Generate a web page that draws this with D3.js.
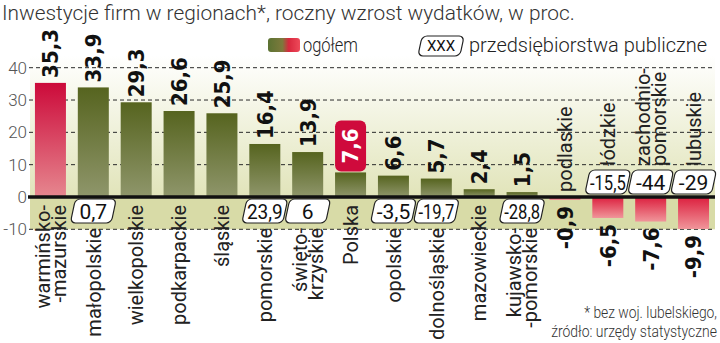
<!DOCTYPE html>
<html><head><meta charset="utf-8">
<script src="https://cdn.jsdelivr.net/npm/d3@7/dist/d3.min.js"></script>
<style>body{margin:0;background:#fff} svg{display:block}</style>
</head><body>
<svg id="c" width="720" height="343"></svg>
<script>
const title = "Inwestycje firm w regionach*, roczny wzrost wydatków, w proc.";
const categories = ["warmińsko-\n-mazurskie","małopolskie","wielkopolskie","podkarpackie","śląskie","pomorskie","święto-\nkrzyskie","Polska","opolskie","dolnośląskie","mazowieckie","kujawsko-\n-pomorskie","podlaskie","łódzkie","zachodnio-\npomorskie","lubuskie"];
const totalValues = [35.3,33.9,29.3,26.6,25.9,16.4,13.9,7.6,6.6,5.7,2.4,1.5,-0.9,-6.5,-7.6,-9.9];
const publicValues = [null,0.7,null,null,null,23.9,6,null,-3.5,-19.7,null,-28.8,null,-15.5,-44,-29];
const yTicks = [-10,0,10,20,30,40];
const legendLabels = ["ogółem","przedsiębiorstwa publiczne"];
const legendSample = "XXX";
const footnotes = ["* bez woj. lubelskiego,","źródło: urzędy statystyczne"];
const highlightCategory = "Polska";

const fmt = v => String(v).replace(".", ",");
const svg = d3.select("#c");
const defs = svg.append("defs");
function vgrad(id, c1, c2){
  const g = defs.append("linearGradient").attr("id", id).attr("x1",0).attr("y1",0).attr("x2",0).attr("y2",1);
  g.append("stop").attr("offset","0%").attr("stop-color",c1);
  g.append("stop").attr("offset","100%").attr("stop-color",c2);
}
vgrad("gGreen","#56641f","#8f966b");
vgrad("gRedPos","#cc0a3a","#e6878f");
vgrad("gRedNeg","#dc1f3e","#f0959a");
vgrad("gBg","#ffffff","#e1e4b9");
const lg = defs.append("linearGradient").attr("id","gLeg").attr("x1",0).attr("x2",1).attr("y1",0).attr("y2",0);
lg.append("stop").attr("offset","0%").attr("stop-color","#5b7232");
lg.append("stop").attr("offset","45%").attr("stop-color","#7d7a3c");
lg.append("stop").attr("offset","65%").attr("stop-color","#d8283e");
lg.append("stop").attr("offset","100%").attr("stop-color","#ee4a5a");

const x = d3.scaleBand().domain(categories).range([29, 715]).paddingInner(0.277).paddingOuter(0.1385);
const y = d3.scaleLinear().domain([-10, 40]).range([229.3, 67.7]);
const plotL = 29, plotR = 715;
const condensed = "'DejaVu Sans', sans-serif";
const labelFont = "Roboto, 'Liberation Sans', sans-serif";

// squeezed text helper: fit natural text into width w via horizontal scale
function fitText(g, s, xPos, yPos, w, anchor, size, weight, fill){
  const t = g.append("text").attr("text-anchor",anchor).text(s)
    .attr("font-family",labelFont).attr("font-weight",weight).attr("font-size",size).attr("fill",fill);
  const L = t.node().getComputedTextLength();
  const sx = Math.min(1, w / L);
  t.attr("transform",`translate(${xPos},${yPos}) scale(${sx},1)`);
  return t;
}

// title
fitText(svg, title, 2, 20, 573, "start", 21, 300, "#333");

// background
svg.append("rect").attr("x",plotL+1).attr("y",56).attr("width",plotR-plotL-1).attr("height",y(0)-56).attr("fill","url(#gBg)");
svg.append("rect").attr("x",plotL+1).attr("y",y(0)).attr("width",plotR-plotL-1).attr("height",y(-10)-y(0)).attr("fill","#d8dba7");

// grid
svg.append("g").selectAll("line").data(yTicks.filter(d=>d!==0)).join("line")
  .attr("x1",plotL).attr("x2",plotR).attr("y1",d=>y(d)).attr("y2",d=>y(d))
  .attr("stroke","#2a2a2a").attr("stroke-width",1).attr("stroke-dasharray","4,3");
svg.append("g").selectAll("text").data(yTicks).join("text")
  .attr("x",27).attr("y",d=>y(d)).attr("dy","0.36em").attr("text-anchor","end")
  .attr("font-family",labelFont).attr("font-weight",300).attr("font-size",17).attr("fill","#555")
  .text(d=>d);

const maxV = d3.max(totalValues);
const data = categories.map((c,i)=>({c, v: totalValues[i], p: publicValues[i]}));
function barFill(d){
  if (d.v < 0) return "url(#gRedNeg)";
  if (d.v === maxV) return "url(#gRedPos)";
  return "url(#gGreen)";
}
svg.append("g").selectAll("rect").data(data).join("rect")
  .attr("x",d=>x(d.c)).attr("width",x.bandwidth())
  .attr("y",d=>y(Math.max(0,d.v))).attr("height",d=>Math.abs(y(d.v)-y(0)))
  .attr("fill",barFill);

// zero line
svg.append("line").attr("x1",plotL-1).attr("x2",plotR).attr("y1",y(0)).attr("y2",y(0))
  .attr("stroke","#111").attr("stroke-width",3.5);

// public boxes
const boxW = x.step(), boxH = 24;
function skewBox(g, cx, top, w, h){
  const gg = g.append("g").attr("transform",`translate(${cx},${top+h/2}) skewX(-12)`);
  gg.append("rect").attr("x",-w/2+1).attr("y",-h/2).attr("width",w-2).attr("height",h).attr("rx",5)
    .attr("fill","#fff").attr("stroke","#222").attr("stroke-width",1.2);
}
const boxG = svg.append("g");
data.forEach(d=>{
  if (d.p === null) return;
  const cx = x(d.c) + x.bandwidth()/2;
  const top = d.v >= 0 ? y(0)+2 : y(0)-2-boxH-1;
  skewBox(boxG, cx, top, boxW, boxH);
  const t = fitText(boxG, fmt(d.p), cx, top+boxH/2, boxW-7, "middle", 21, 400, "#111");
  t.attr("dy","0.36em");
});

// value labels
const valG = svg.append("g");
data.forEach(d=>{
  const cx = x(d.c) + x.bandwidth()/2;
  if (d.c === highlightCategory){
    const top = y(d.v) - 52;
    valG.append("rect").attr("x",x(d.c)).attr("y",top).attr("width",x.bandwidth()).attr("height",51)
      .attr("rx",6).attr("fill","#cf0a3c");
    valG.append("text").attr("transform",`translate(${cx},${top+25.5}) rotate(-90)`)
      .attr("dy","0.36em").attr("text-anchor","middle")
      .attr("font-family",condensed).attr("font-stretch","condensed").attr("font-weight","bold").attr("font-size",22)
      .attr("fill","#fff").text(fmt(d.v));
    return;
  }
  const pos = d.v >= 0;
  const yy = pos ? y(d.v) - 5 : y(d.v) + 6;
  valG.append("text").attr("transform",`translate(${cx},${yy}) rotate(-90)`)
    .attr("dy","0.36em").attr("text-anchor", pos ? "start" : "end")
    .attr("font-family",condensed).attr("font-stretch","condensed").attr("font-weight","bold").attr("font-size",22)
    .attr("fill","#111").text(fmt(d.v));
});

// category labels
const catG = svg.append("g");
data.forEach(d=>{
  const cx = x(d.c) + x.bandwidth()/2;
  const lines = d.c.split("\n");
  let anchor, yy;
  if (d.v >= 0){
    anchor = "end";
    yy = d.p !== null ? y(0) + boxH + 7 : y(0) + 8;
  } else {
    anchor = "start";
    yy = d.p !== null ? y(0) - boxH - 7 : y(0) - 5;
  }
  const t = catG.append("text").attr("transform",`translate(${cx},${yy}) rotate(-90)`)
    .attr("text-anchor",anchor).attr("font-family",labelFont).attr("font-size",20).attr("fill","#222");
  const n = lines.length;
  lines.forEach((ln,i)=>{
    t.append("tspan").attr("x",0).attr("y",0).attr("dy",(0.36 + (i-(n-1)/2)*0.8)+"em").text(ln);
  });
});

// legend
svg.append("rect").attr("x",268).attr("y",38).attr("width",32).attr("height",14).attr("rx",3).attr("fill","url(#gLeg)");
fitText(svg, legendLabels[0], 303, 52, 55, "start", 20, 300, "#222");
skewBox(svg, 441, 36, 44, 20);
svg.append("text").attr("x",441).attr("y",46).attr("dy","0.36em").attr("text-anchor","middle")
  .attr("font-family",labelFont).attr("font-size",15).attr("fill","#111").text(legendSample);
fitText(svg, legendLabels[1], 469, 52, 243, "start", 20, 300, "#222");

// footnotes
fitText(svg, footnotes[0], 717, 318, 133, "end", 16, 300, "#333");
fitText(svg, footnotes[1], 717, 337, 166, "end", 16, 300, "#333");
</script>
</body></html>
